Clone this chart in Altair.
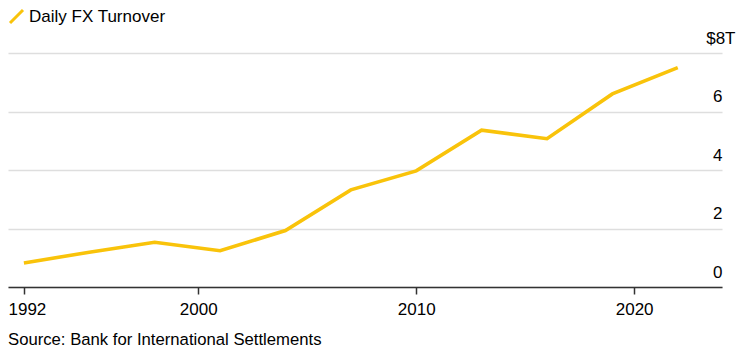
import altair as alt
import pandas as pd

years = [1992, 1995, 1998, 2001, 2004, 2007, 2010, 2013, 2016, 2019, 2022]
turnover = [0.82, 1.19, 1.53, 1.24, 1.93, 3.32, 3.97, 5.36, 5.07, 6.6, 7.5]
series_name = "Daily FX Turnover"
x_ticks = [1992, 2000, 2010, 2020]
y_ticks = [0, 2, 4, 6, 8]
source = "Source: Bank for International Settlements"

df = pd.DataFrame({"year": years, "value": turnover, "series": series_name})

FONT = "Liberation Sans"
YELLOW = "#F9C30A"

line = alt.Chart(df).mark_line(strokeWidth=3.6, strokeJoin="miter").encode(
    x=alt.X(
        "year:Q",
        scale=alt.Scale(domain=[1991.27, 2024.03], nice=False, zero=False),
        axis=alt.Axis(
            values=x_ticks,
            format="d",
            title=None,
            grid=False,
            domainColor="#333333",
            domainWidth=1.5,
            tickColor="#333333",
            tickWidth=1.5,
            tickSize=7,
            labelPadding=7,
            labelOffset={"condition": {"test": "datum.value === 1992", "value": 3}, "value": 0},
            labelFont=FONT,
            labelFontSize=17,
            labelColor="#000000",
        ),
    ),
    y=alt.Y(
        "value:Q",
        scale=alt.Scale(domain=[0, 8], nice=False),
        axis=alt.Axis(
            orient="right",
            values=y_ticks,
            title=None,
            domain=False,
            ticks=False,
            grid=True,
            gridColor="#dedede",
            gridWidth=1.5,
            labelAlign="right",
            labelBaseline="alphabetic",
            labelOffset=-10,
            labelPadding={"condition": {"test": "datum.value === 8", "value": 13}, "value": 0},
            labelExpr="datum.value === 8 ? '$8T' : datum.label",
            labelFont=FONT,
            labelFontSize=17,
            labelColor="#000000",
        ),
    ),
    color=alt.Color(
        "series:N",
        scale=alt.Scale(range=[YELLOW]),
        legend=alt.Legend(
            title=None,
            orient="none",
            legendX=0,
            legendY=-45,
            symbolType="M-1,1L1,-1",
            symbolSize=169,
            symbolStrokeWidth=3,
            labelOffset=4,
            labelFont=FONT,
            labelFontSize=17,
            labelColor="#000000",
            padding=0,
        ),
    ),
)

chart = line.properties(
    width=714,
    height=234,
    autosize=alt.AutoSizeParams(type="none"),
    padding={"left": 0, "top": 45, "right": 24, "bottom": 62},
    title=alt.Title(
        source,
        orient="bottom",
        anchor="start",
        font=FONT,
        fontSize=16.7,
        fontWeight="normal",
        color="#000000",
        offset=15,
    ),
).configure_view(stroke=None)

chart.save("out.html", embed_options={"renderer": "svg", "actions": False})
